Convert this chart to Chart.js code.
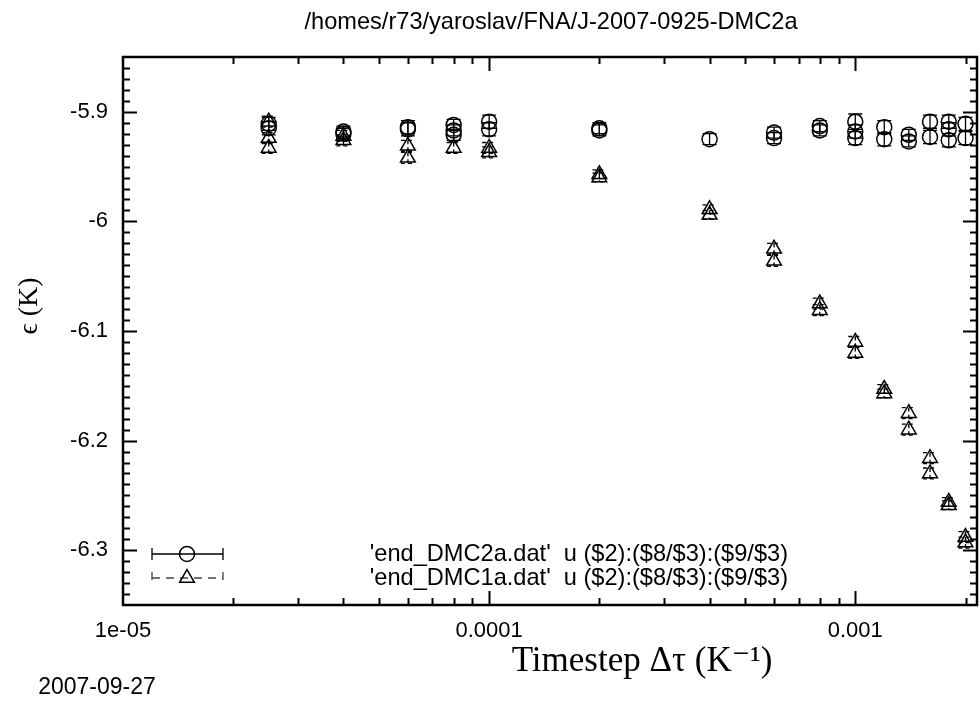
<!DOCTYPE html>
<html>
<head>
<meta charset="utf-8">
<title>DMC timestep</title>
<script src="https://cdn.jsdelivr.net/npm/chart.js@4.4.1/dist/chart.umd.min.js"></script>
<style>
  html, body { margin: 0; padding: 0; background: #fff; }
  #wrap { width: 980px; height: 702px; }
</style>
</head>
<body>
<div id="wrap"><canvas id="chart" width="980" height="702"></canvas></div>
<script>
// ── Dados ─────────────────────────────────────────────────
// end_DMC2a.dat (círculos)
const dtDMC2a  = [2.5e-5, 2.5e-5, 4e-5, 4e-5, 6e-5, 6e-5, 8e-5, 8e-5, 8e-5, 1e-4, 1e-4,
                  2e-4, 2e-4, 4e-4, 6e-4, 6e-4, 8e-4, 8e-4, 1e-3, 1e-3, 1e-3,
                  1.2e-3, 1.2e-3, 1.4e-3, 1.4e-3, 1.6e-3, 1.6e-3, 1.8e-3, 1.8e-3, 1.8e-3, 2e-3, 2e-3];
const epsDMC2a = [-5.911, -5.915, -5.918, -5.920, -5.914, -5.916, -5.912, -5.917, -5.921, -5.909, -5.916,
                  -5.915, -5.917, -5.925, -5.919, -5.924, -5.913, -5.917, -5.909, -5.918, -5.924,
                  -5.914, -5.925, -5.921, -5.927, -5.909, -5.923, -5.909, -5.916, -5.926, -5.911, -5.924];
const errDMC2a = [0.006, 0.006, 0.005, 0.005, 0.006, 0.006, 0.005, 0.005, 0.005, 0.006, 0.006,
                  0.005, 0.005, 0.005, 0.005, 0.005, 0.005, 0.005, 0.007, 0.006, 0.006,
                  0.006, 0.006, 0.005, 0.005, 0.006, 0.006, 0.006, 0.006, 0.006, 0.006, 0.006];

// end_DMC1a.dat (triângulos)
const dtDMC1a  = [2.5e-5, 2.5e-5, 2.5e-5, 4e-5, 4e-5, 6e-5, 6e-5, 8e-5, 1e-4, 1e-4,
                  2e-4, 2e-4, 4e-4, 4e-4, 6e-4, 6e-4, 8e-4, 8e-4, 1e-3, 1e-3,
                  1.2e-3, 1.2e-3, 1.4e-3, 1.4e-3, 1.6e-3, 1.6e-3, 1.8e-3, 1.8e-3, 2e-3, 2e-3];
const epsDMC1a = [-5.909, -5.924, -5.933, -5.922, -5.926, -5.931, -5.942, -5.933, -5.933, -5.937,
                  -5.957, -5.960, -5.989, -5.994, -6.025, -6.036, -6.075, -6.081, -6.110, -6.120,
                  -6.153, -6.157, -6.175, -6.190, -6.216, -6.230, -6.256, -6.259, -6.288, -6.293];
const errDMC1a = [0.005, 0.005, 0.005, 0.005, 0.005, 0.005, 0.005, 0.005, 0.005, 0.005,
                  0.004, 0.004, 0.004, 0.004, 0.005, 0.005, 0.005, 0.005, 0.005, 0.005,
                  0.004, 0.004, 0.005, 0.005, 0.005, 0.005, 0.004, 0.004, 0.005, 0.005];

// Eixos
const xMin = 1e-5, xMax = 0.00215;
const yMin = -6.35, yMax = -5.85;
const xTickValues = [1e-5, 1e-4, 1e-3];
const xTickLabels = ['1e-05', '0.0001', '0.001'];
const yTickValues = [-6.3, -6.2, -6.1, -6, -5.9];
const yTickLabels = ['-6.3', '-6.2', '-6.1', '-6', '-5.9'];

const seriesLabels = [
  "'end_DMC2a.dat'  u ($2):($8/$3):($9/$3)",
  "'end_DMC1a.dat'  u ($2):($8/$3):($9/$3)",
];
const titleText = '/homes/r73/yaroslav/FNA/J-2007-0925-DMC2a';
const xTitleText = 'Timestep Δτ (K⁻¹)';
const yTitleText = 'ϵ (K)';
const dateText = '2007-09-27';

const SANS = "'Liberation Sans', Arial, sans-serif";
const SERIF = "'Liberation Serif', 'DejaVu Serif', serif";

// ── Helpers ───────────────────────────────────────────────

function toPoints(xs, ys) {
  return xs.map((x, i) => ({ x, y: ys[i] }));
}

function drawMarker(ctx, style, x, y, r) {
  ctx.beginPath();
  if (style === 'circle') {
    ctx.arc(x, y, r, 0, Math.PI * 2);
  } else {
    const h = r * Math.sqrt(3) / 2;
    ctx.moveTo(x, y - r);
    ctx.lineTo(x + h, y + r / 2);
    ctx.lineTo(x - h, y + r / 2);
    ctx.closePath();
  }
  ctx.stroke();
}

// ── Barras de erro ────────────────────────────────────────

const errorBars = {
  id: 'errorBars',
  beforeDatasetsDraw(chart) {
    const { ctx } = chart;
    const xs = chart.scales.x, ys = chart.scales.y;
    const errs = [errDMC2a, errDMC1a];
    const cap = 7;
    chart.data.datasets.forEach((ds, i) => {
      ctx.save();
      ctx.strokeStyle = '#000';
      ctx.lineWidth = 1.3;
      ctx.setLineDash(i === 1 ? [4, 3] : []);
      ds.data.forEach((p, j) => {
        const px = xs.getPixelForValue(p.x);
        const top = ys.getPixelForValue(p.y + errs[i][j]);
        const bot = ys.getPixelForValue(p.y - errs[i][j]);
        ctx.beginPath();
        ctx.moveTo(px, top); ctx.lineTo(px, bot);
        ctx.moveTo(px - cap, top); ctx.lineTo(px + cap, top);
        ctx.moveTo(px - cap, bot); ctx.lineTo(px + cap, bot);
        ctx.stroke();
      });
      ctx.restore();
    });
  },
};

// ── Moldura, ticks internos, legenda e textos ─────────────

const gnuplotFrame = {
  id: 'gnuplotFrame',
  afterDraw(chart) {
    const { ctx, chartArea: a } = chart;
    const xs = chart.scales.x, ys = chart.scales.y;
    const major = 14, minor = 7;

    ctx.save();
    ctx.strokeStyle = '#000';

    // ticks x (log) — menores em n·10^k
    ctx.lineWidth = 2;
    ctx.beginPath();
    for (let k = -5; k <= -3; k++) {
      for (let n = 1; n <= 9; n++) {
        const v = n * Math.pow(10, k);
        if (v <= xMin * 1.0001 || v >= xMax) continue;
        const px = Math.round(xs.getPixelForValue(v)) + 0.5;
        const len = n === 1 ? major : minor;
        ctx.moveTo(px, a.bottom); ctx.lineTo(px, a.bottom - len);
        ctx.moveTo(px, a.top); ctx.lineTo(px, a.top + len);
      }
    }
    // ticks y — menores a cada 0.01
    for (let i = 1; i < 50; i++) {
      const v = yMin + i * 0.01;
      const py = Math.round(ys.getPixelForValue(v)) + 0.5;
      const len = i % 10 === 5 ? major : minor;
      ctx.moveTo(a.left, py); ctx.lineTo(a.left + len, py);
      ctx.moveTo(a.right, py); ctx.lineTo(a.right - len, py);
    }
    ctx.stroke();

    // moldura
    ctx.lineWidth = 2.5;
    ctx.strokeRect(a.left, a.top, a.right - a.left, a.bottom - a.top);

    // legenda
    const rows = [554, 578];
    const x0 = 152, x1 = 223, xm = 187;
    ctx.font = `23.6px ${SANS}`;
    ctx.fillStyle = '#000';
    ctx.textAlign = 'right';
    ctx.textBaseline = 'middle';
    rows.forEach((ry, i) => {
      ctx.fillText(seriesLabels[i], 788, ry);
      ctx.lineWidth = 1.3;
      ctx.strokeStyle = i === 0 ? '#000' : '#444';
      ctx.setLineDash(i === 0 ? [] : [8, 6]);
      ctx.beginPath();
      ctx.moveTo(x0, ry); ctx.lineTo(x1, ry);
      ctx.moveTo(x0, ry - 6); ctx.lineTo(x0, ry + 6);
      ctx.moveTo(x1, ry - 6); ctx.lineTo(x1, ry + 6);
      ctx.stroke();
      ctx.setLineDash([]);
      ctx.strokeStyle = '#000';
      ctx.lineWidth = 1.5;
      drawMarker(ctx, i === 0 ? 'circle' : 'triangle', xm, ry, i === 0 ? 7.5 : 8.5);
    });

    // título, eixos, data
    ctx.textAlign = 'center';
    ctx.fillText(titleText, 551, 22);
    ctx.font = `35px ${SERIF}`;
    ctx.fillText(xTitleText, 642, 662);
    ctx.save();
    ctx.translate(30, 306);
    ctx.rotate(-Math.PI / 2);
    ctx.font = `28px ${SERIF}`;
    ctx.fillText(yTitleText, 0, 0);
    ctx.restore();
    ctx.font = `23px ${SANS}`;
    ctx.fillText(dateText, 97, 688);
    ctx.restore();
  },
};

// ── Gráfico ───────────────────────────────────────────────

const ctx = document.getElementById('chart');

new Chart(ctx, {
  type: 'scatter',
  data: {
    datasets: [
      {
        label: seriesLabels[0],
        data: toPoints(dtDMC2a, epsDMC2a),
        pointStyle: 'circle',
        pointRadius: 7.5,
        pointHoverRadius: 7.5,
        borderColor: '#000',
        backgroundColor: 'rgba(0,0,0,0)',
        pointBorderWidth: 1.5,
        showLine: false,
      },
      {
        label: seriesLabels[1],
        data: toPoints(dtDMC1a, epsDMC1a),
        pointStyle: 'triangle',
        pointRadius: 8.5,
        pointHoverRadius: 8.5,
        borderColor: '#000',
        backgroundColor: 'rgba(0,0,0,0)',
        pointBorderWidth: 1.5,
        showLine: false,
      },
    ],
  },
  options: {
    responsive: false,
    animation: false,
    devicePixelRatio: 1,
    layout: { autoPadding: false, padding: { top: 57, right: 3, bottom: 0, left: 0 } },
    plugins: {
      legend: { display: false },
      tooltip: { enabled: false },
      title: { display: false },
    },
    scales: {
      x: {
        type: 'logarithmic',
        min: xMin,
        max: xMax,
        afterBuildTicks: (scale) => {
          scale.ticks = xTickValues.map(v => ({ value: v, major: true }));
        },
        afterFit: (scale) => { scale.height = 97; },
        grid: { display: false },
        border: { display: false },
        ticks: {
          autoSkip: false,
          maxRotation: 0,
          padding: 5,
          color: '#000',
          font: { family: SANS, size: 22 },
          callback: (v) => {
            const i = xTickValues.findIndex(t => Math.abs(t - v) / t < 1e-6);
            return i >= 0 ? xTickLabels[i] : '';
          },
        },
      },
      y: {
        type: 'linear',
        min: yMin,
        max: yMax,
        afterBuildTicks: (scale) => {
          scale.ticks = yTickValues.map(v => ({ value: v }));
        },
        afterFit: (scale) => { scale.width = 123; },
        grid: { display: false },
        border: { display: false },
        ticks: {
          autoSkip: false,
          padding: 7,
          color: '#000',
          font: { family: SANS, size: 22 },
          callback: (v) => {
            const i = yTickValues.findIndex(t => Math.abs(t - v) < 1e-6);
            return i >= 0 ? yTickLabels[i] : '';
          },
        },
      },
    },
  },
  plugins: [errorBars, gnuplotFrame],
});
</script>
</body>
</html>
